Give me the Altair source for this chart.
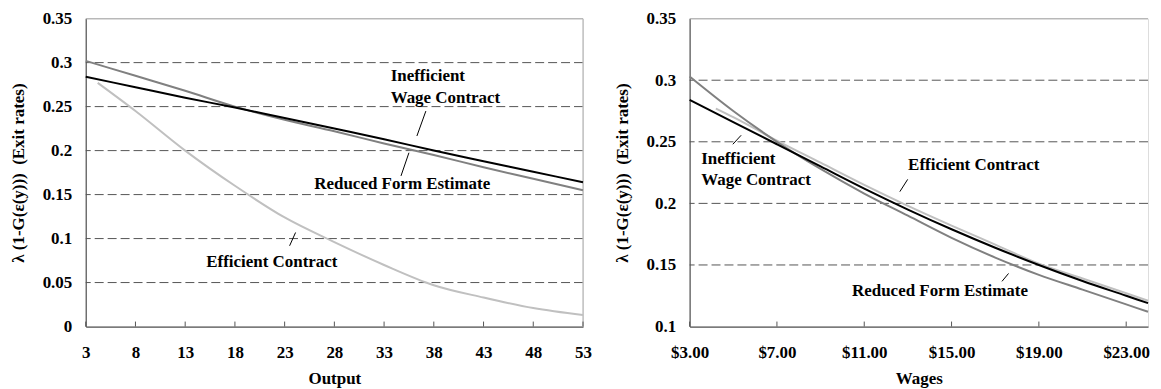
import altair as alt
import pandas as pd

FONT = "'Liberation Serif', 'Times New Roman', Times, 'DejaVu Serif', serif"

# ---------------- Left panel: exit rates vs output ----------------
output_x = [3, 8, 13, 18, 23, 28, 33, 38, 43, 48, 53]
out_inefficient = [0.284, 0.272, 0.260, 0.249, 0.237, 0.225, 0.213, 0.200, 0.188, 0.176, 0.164]
out_reduced = [0.302, 0.285, 0.268, 0.250, 0.235, 0.222, 0.208, 0.195, 0.181, 0.168, 0.155]
out_efficient_x = [4.2, 8, 13, 18, 23, 28, 33, 38, 43, 48, 53]
out_efficient = [0.277, 0.245, 0.200, 0.160, 0.124, 0.096, 0.070, 0.047, 0.033, 0.021, 0.013]

output_ticks = [3, 8, 13, 18, 23, 28, 33, 38, 43, 48, 53]
output_yticks = [0, 0.05, 0.1, 0.15, 0.2, 0.25, 0.3, 0.35]
output_grid = [0.05, 0.1, 0.15, 0.2, 0.25, 0.3]

out_labels = ["Inefficient", "Wage Contract", "Reduced Form Estimate", "Efficient Contract"]
out_label_x = [33.66, 33.66, 25.98, 15.12]
out_label_y = [0.2846, 0.260, 0.1618, 0.0737]
out_lead_x1 = [37.2, 35.5, 23.5]
out_lead_y1 = [0.2449, 0.1976, 0.0918]
out_lead_x2 = [36.3, 34.7, 24.1]
out_lead_y2 = [0.2166, 0.1712, 0.1069]

# ---------------- Right panel: exit rates vs wages ----------------
wage_x = [3, 5, 7, 9, 11, 13, 15, 17, 19, 21, 23, 24]
wage_inefficient = [0.284, 0.266, 0.248, 0.230, 0.212, 0.195, 0.179, 0.164, 0.150, 0.137, 0.125, 0.119]
wage_reduced = [0.303, 0.275, 0.250, 0.228, 0.208, 0.190, 0.172, 0.156, 0.142, 0.130, 0.118, 0.112]
wage_efficient_x = [4.2, 5, 7, 9, 11, 13, 15, 17, 19, 21, 23, 24]
wage_efficient = [0.277, 0.270, 0.251, 0.233, 0.215, 0.198, 0.182, 0.1665, 0.151, 0.139, 0.127, 0.121]

wage_ticks = [3, 7, 11, 15, 19, 23]
wage_yticks = [0.1, 0.15, 0.2, 0.25, 0.3, 0.35]
wage_grid = [0.15, 0.2, 0.25, 0.3]

wage_labels = ["Inefficient", "Wage Contract", "Efficient Contract", "Reduced Form Estimate"]
wage_label_x = [3.53, 3.53, 13.01, 10.44]
wage_label_y = [0.2362, 0.2189, 0.2308, 0.1291]
wage_lead_x1 = [4.98, 12.63, 17.31]
wage_lead_y1 = [0.248, 0.2095, 0.1367]
wage_lead_x2 = [5.36, 12.99, 17.61]
wage_lead_y2 = [0.2553, 0.2195, 0.1431]

Y_TITLE = "λ (1-G(ε(y)))\u00a0\u00a0(Exit rates)"
COL_INEFF = "#000000"
COL_REDUCED = "#808080"
COL_EFF = "#c0c0c0"
AXIS_COL = "#555555"
BORDER_COL = "#b8b8b8"

W_LEFT, W_RIGHT, H = 499, 460, 309


def panel(xs_ineff, ys_ineff, xs_red, ys_red, xs_eff, ys_eff,
          xdomain, ydomain, xticks, yticks, grid, xformat, xtitle,
          labels, lx, ly, lx1, ly1, lx2, ly2, width, right_border):
    xaxis = alt.Axis(values=xticks, format=xformat, title=xtitle, grid=False, ticks=False,
                     domainColor=AXIS_COL, domainWidth=1.2,
                     labelFont=FONT, labelFontSize=17, labelFontWeight="bold", labelColor="black",
                     labelPadding=18, labelFlush=False, labelOverlap=False,
                     titleFont=FONT, titleFontSize=17, titleFontWeight="bold", titleColor="black",
                     titlePadding=10)
    yaxis = alt.Axis(values=yticks, format="~g", title=Y_TITLE, grid=False, ticks=False,
                     domainColor=AXIS_COL, domainWidth=1.2,
                     labelFont=FONT, labelFontSize=17, labelFontWeight="bold", labelColor="black",
                     labelPadding=14, labelOverlap=False,
                     titleFont=FONT, titleFontSize=17, titleFontWeight="bold", titleColor="black",
                     titlePadding=15)
    xs = alt.Scale(domain=xdomain, nice=False, zero=False)
    ys = alt.Scale(domain=ydomain, nice=False, zero=False)

    def X(f):
        return alt.X(f, type="quantitative", scale=xs, axis=xaxis)

    def Y(f):
        return alt.Y(f, type="quantitative", scale=ys, axis=yaxis)

    grid_df = pd.DataFrame({"g": grid})
    gridl = alt.Chart(grid_df).mark_rule(color=AXIS_COL, strokeDash=[9, 4], strokeWidth=1).encode(
        y=Y("g"))

    border_parts = [alt.Chart(pd.DataFrame({"b": [ydomain[1]]})).mark_rule(
        color=BORDER_COL, strokeWidth=1.2).encode(y=Y("b"))]
    if right_border:
        border_parts.append(alt.Chart(pd.DataFrame({"b": [xdomain[1]]})).mark_rule(
            color=BORDER_COL, strokeWidth=1.2).encode(x=X("b")))

    tick_df = pd.DataFrame({"t": xticks})
    ticks = alt.Chart(tick_df).mark_rule(color=AXIS_COL, strokeWidth=1).encode(
        x=X("t"), y=alt.value(H), y2=alt.value(H - 5))

    def line(xv, yv, col):
        df = pd.DataFrame({"x": xv, "y": yv})
        return alt.Chart(df).mark_line(color=col, strokeWidth=2, interpolate="monotone").encode(
            x=X("x"), y=Y("y"))

    l_eff = line(xs_eff, ys_eff, COL_EFF)
    l_red = line(xs_red, ys_red, COL_REDUCED)
    l_ineff = line(xs_ineff, ys_ineff, COL_INEFF)

    lab_df = pd.DataFrame({"x": lx, "y": ly, "label": labels})
    texts = alt.Chart(lab_df).mark_text(align="left", baseline="middle", font=FONT, fontSize=17,
                                        fontWeight="bold", color="black").encode(
        x=X("x"), y=Y("y"), text="label:N")

    lead_df = pd.DataFrame({"x1": lx1, "y1": ly1, "x2": lx2, "y2": ly2})
    leads = alt.Chart(lead_df).mark_rule(color="black", strokeWidth=1).encode(
        x=X("x1"), y=Y("y1"), x2="x2:Q", y2="y2:Q")

    return alt.layer(gridl, *border_parts, ticks, l_eff, l_red, l_ineff, leads, texts).properties(
        width=width, height=H)


left = panel(output_x, out_inefficient, output_x, out_reduced, out_efficient_x, out_efficient,
             [3, 53], [0, 0.35], output_ticks, output_yticks, output_grid, "d", "Output",
             out_labels, out_label_x, out_label_y, out_lead_x1, out_lead_y1, out_lead_x2, out_lead_y2,
             W_LEFT, True)

right = panel(wage_x, wage_inefficient, wage_x, wage_reduced, wage_efficient_x, wage_efficient,
              [3, 24], [0.1, 0.35], wage_ticks, wage_yticks, wage_grid, "$.2f", "Wages",
              wage_labels, wage_label_x, wage_label_y, wage_lead_x1, wage_lead_y1, wage_lead_x2, wage_lead_y2,
              W_RIGHT, False)

chart = alt.hconcat(left, right, spacing=107, bounds="flush").properties(
    padding={"left": 0, "top": 0, "right": 0, "bottom": 0}
).configure_view(stroke=None).configure(background="white")

chart.save("out.html", embed_options={"renderer": "svg", "actions": False})
